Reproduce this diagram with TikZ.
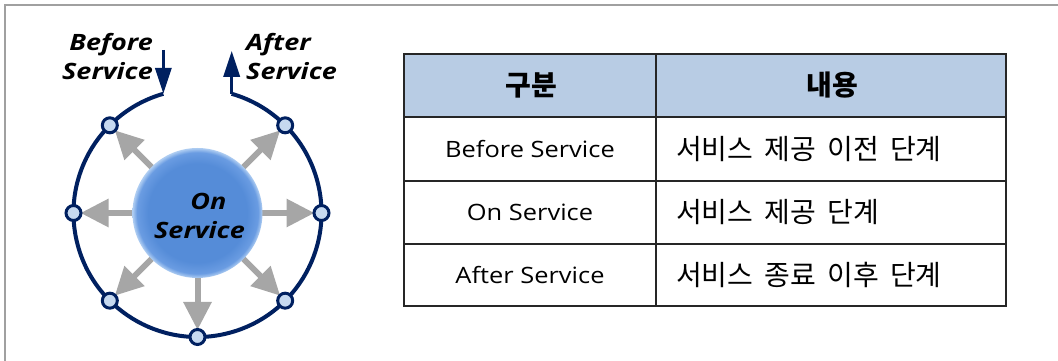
\documentclass[tikz,border=0pt]{standalone}
\usepackage{fontspec}
\setmainfont{Open Sans}
\newfontfamily\kr{Noto Sans CJK KR}
\newfontfamily\lblfont[FakeStretch=1.2]{Open Sans}
\newfontfamily\cellfont[FakeStretch=1.13]{Open Sans}
\newcommand\krtextfont{\kr\fontsize{28}{32}\selectfont\spaceskip=0.4em\relax}
\usetikzlibrary{arrows.meta,calc}
\definecolor{navy}{HTML}{002060}
\definecolor{nodefill}{HTML}{C6D9F0}
\definecolor{arrgray}{HTML}{A6A6A6}
\definecolor{hdr}{HTML}{B8CCE4}
\definecolor{frame}{HTML}{A0A0A0}
\definecolor{sphA}{HTML}{558CD8}
\definecolor{sphB}{HTML}{6A9CE2}
\definecolor{sphC}{HTML}{B0CEF2}
\pgfdeclareradialshading{sphere}{\pgfpoint{0bp}{0bp}}{color(0bp)=(sphA); color(19bp)=(sphA); color(23.3bp)=(sphB); color(25bp)=(sphC); color(50bp)=(sphC)}
\tikzset{
  ring/.style={draw=navy, line width=4pt},
  dot/.style={circle, draw=navy, fill=nodefill, line width=3pt, minimum size=15pt, inner sep=0pt},
  spoke/.style={draw=arrgray, line width=6pt, -{Triangle[length=28pt,width=27pt]}},
  navyarr/.style={draw=navy, line width=3.5pt, -{Triangle[length=26pt,width=16pt]}},
  lbl/.style={font=\lblfont\fontsize{22.5}{29.5}\selectfont\bfseries\itshape, inner sep=0pt},
  cell/.style={font=\cellfont\fontsize{22.5}{26}\selectfont, inner sep=0pt},
  krcell/.style={font=\krtextfont, inner sep=0pt, anchor=west},
  krhead/.style={font=\kr\fontsize{28}{32}\selectfont\bfseries, inner sep=0pt},
  tline/.style={draw=black!85, line width=1.3pt}
}
\begin{document}
\begin{tikzpicture}[x=1pt,y=1pt]
\useasboundingbox (0,0) rectangle (1058,361);
% frame
\draw[frame, line width=2.5pt] (5,0) -- (5,356) -- (1058,356);
% ring
\coordinate (C) at (197.5,148);
\coordinate (bA) at ($(C)+(106:124)$);
\coordinate (bT) at ($(bA)+(0,44)$);
\draw[ring] (bA) arc[start angle=106, end angle=434, radius=124] coordinate (aA);
\coordinate (aT) at ($(aA)+(0,43)$);
\draw[navyarr] (bT) -- (bA);
\draw[navyarr] (aA) -- (aT);
% spokes
\foreach \a/\n in {0/e,45/ne,135/nw,180/w,225/sw,270/s,315/se}{
  \coordinate (s\n) at ($(C)+(\a:60)$);
  \coordinate (t\n) at ($(C)+(\a:117)$);
  \draw[spoke] (s\n) -- (t\n);
}
\foreach \a/\n in {0/e,45/ne,135/nw,180/w,225/sw,270/s,315/se}{
  \node[dot] (d\n) at ($(C)+(\a:124)$) {};
}
% sphere
\shade[shading=sphere] (C) circle[radius=65];
\node[lbl, align=center] (on) at ($(C)+(2,-3)$) {\hspace*{18pt}On\\Service};
% labels
\node[lbl, align=right, anchor=north east] (bl) at (153,328) {Before\\Service};
\node[lbl, align=left, anchor=north west] (al) at (246,328) {After\\Service};
% table
\fill[hdr] (404,244) rectangle (1006,307);
\draw[tline] (404,55) rectangle (1006,307);
\draw[tline] (404,244) -- (1006,244);
\draw[tline] (404,180) -- (1006,180);
\draw[tline] (404,117) -- (1006,117);
\draw[tline] (656,55) -- (656,307);
\node[krhead] (h1) at (531,275.5) {구분};
\node[krhead] (h2) at (832,275.5) {내용};
\node[cell] (r1a) at (530,212) {Before Service};
\node[cell] (r2a) at (530,148.5) {On Service};
\node[cell] (r3a) at (530,86) {After Service};
\node[krcell] (r1b) at (676,212) {서비스 제공 이전 단계};
\node[krcell] (r2b) at (676,148.5) {서비스 제공 단계};
\node[krcell] (r3b) at (676,86) {서비스 종료 이후 단계};
\end{tikzpicture}
\end{document}
